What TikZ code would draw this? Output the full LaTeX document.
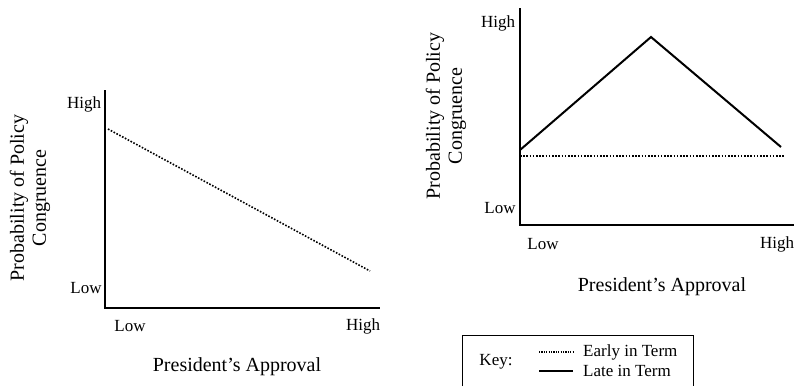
\documentclass[tikz,border=0pt]{standalone}
\usepackage{fontspec}
\setmainfont{Liberation Serif}
\begin{document}
\begin{tikzpicture}[x=1pt,y=-1pt,
  axis/.style={line width=2.6pt},
  early/.style={line width=1.6pt, dash pattern=on 1.6pt off 1.6pt},
  late/.style={line width=2pt},
  tick/.style={font=\fontsize{17}{19}\selectfont, inner sep=0pt},
  atitle/.style={font=\fontsize{20}{22}\selectfont, inner sep=0pt},
  keytext/.style={font=\fontsize{17}{19}\selectfont, inner sep=0pt, anchor=west},
  keybox/.style={line width=1pt}]
\useasboundingbox (0,0) rectangle (796,386);
% Left chart
\coordinate (Ltop) at (105,90);
\coordinate (Lorig) at (105,308);
\coordinate (Lright) at (380,308);
\draw[axis] (Ltop) -- (Lorig) -- (Lright);
\coordinate (Le1) at (108,129);
\coordinate (Le2) at (370,271);
\draw[early] (Le1) -- (Le2);
\node[tick] (LyHigh) at (84,104) {High};
\node[tick] (LyLow) at (86,288) {Low};
\node[tick] (LxLow) at (130,326) {Low};
\node[tick] (LxHigh) at (363,326) {High};
\node[atitle] (Lxt) at (237,367) {President’s Approval};
\node[atitle, rotate=90, align=center] (Lyt) at (30,198) {Probability of Policy\\Congruence};
% Right chart
\coordinate (Rtop) at (520,8);
\coordinate (Rorig) at (520,225);
\coordinate (Rright) at (794,225);
\draw[axis] (Rtop) -- (Rorig) -- (Rright);
\coordinate (Rl1) at (520,150);
\coordinate (Rl2) at (651,37);
\coordinate (Rl3) at (781,147);
\draw[late] (Rl1) -- (Rl2) -- (Rl3);
\coordinate (Re1) at (520,156);
\coordinate (Re2) at (785,156);
\draw[early] (Re1) -- (Re2);
\node[tick] (RyHigh) at (498,23) {High};
\node[tick] (RyLow) at (500,208) {Low};
\node[tick] (RxLow) at (543,244) {Low};
\node[tick] (RxHigh) at (777,244) {High};
\node[atitle] (Rxt) at (662,287) {President’s Approval};
\node[atitle, rotate=90, align=center] (Ryt) at (446,116) {Probability of Policy\\Congruence};
% Key
\draw[keybox] (462,386) -- (462,335) -- (693,335) -- (693,386);
\node[keytext, anchor=center] (key) at (496,362) {Key:};
\coordinate (k1a) at (539,352);
\coordinate (k1b) at (573,352);
\coordinate (k2a) at (539,371);
\coordinate (k2b) at (573,371);
\draw[early, line width=1.2pt, dash pattern=on 1.2pt off 1.2pt] (k1a) -- (k1b);
\draw[late] (k2a) -- (k2b);
\node[keytext] (kearly) at (583,352) {Early in Term};
\node[keytext] (klate) at (583,371) {Late in Term};
\end{tikzpicture}
\end{document}
